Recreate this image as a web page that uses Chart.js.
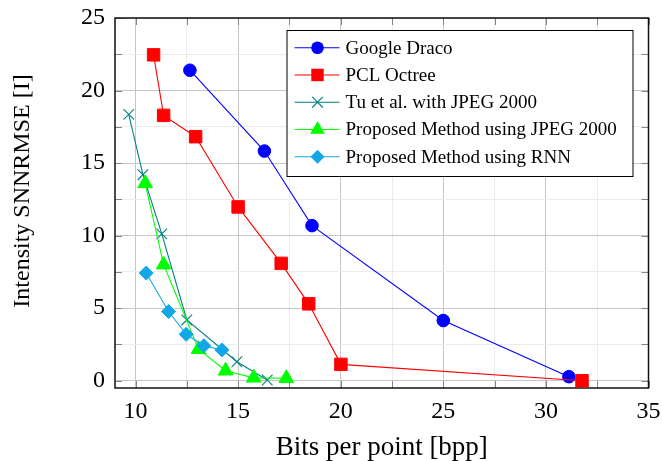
<!DOCTYPE html>
<html>
<head>
<meta charset="utf-8">
<script src="https://cdn.jsdelivr.net/npm/chart.js@4.4.1/dist/chart.umd.min.js"></script>
<style>
  html, body { margin: 0; padding: 0; background: #fff; }
  #wrap { width: 662px; height: 461px; }
</style>
</head>
<body>
<div id="wrap"><canvas id="grafico"></canvas></div>
<script>
// Valores
const seriesNames = ["Google Draco", "PCL Octree", "Tu et al. with JPEG 2000", "Proposed Method using JPEG 2000", "Proposed Method using RNN"];

const dracoX = [12.65, 16.28, 18.6, 25.0, 31.12];
const dracoY = [21.4, 15.83, 10.69, 4.15, 0.28];

const octreeX = [10.88, 11.37, 12.93, 15.0, 17.1, 18.44, 20.01, 31.76];
const octreeY = [22.46, 18.29, 16.82, 11.98, 8.09, 5.3, 1.13, 0.0];

const tuX = [9.67, 10.36, 11.28, 12.5, 14.94, 16.42];
const tuY = [18.36, 14.2, 10.12, 4.19, 1.31, 0.05];

const jpegX = [10.47, 11.37, 13.07, 14.39, 15.76, 17.35];
const jpegY = [13.6, 8.0, 2.17, 0.69, 0.2, 0.17];

const rnnX = [10.52, 11.61, 12.47, 13.33, 14.21];
const rnnY = [7.42, 4.77, 3.2, 2.42, 2.12];

const xTicks = [10, 12.5, 15, 17.5, 20, 22.5, 25, 27.5, 30, 32.5, 35];
const yTicks = [0, 2.5, 5, 7.5, 10, 12.5, 15, 17.5, 20, 22.5, 25];

const cores = ["#0000ff", "#ff0000", "#008080", "#00ff00", "#12a8e8"];
const marcadores = ["circle", "rect", "crossRot", "triangle", "rectRot"];
const raios = [6.3, 8.8, 7.5, 8.5, 7];

const fonte = "'Liberation Serif', 'Times New Roman', serif";

function pontos(xs, ys) {
    return xs.map((x, i) => ({ x: x, y: ys[i] }));
}

const todos = [[dracoX, dracoY], [octreeX, octreeY], [tuX, tuY], [jpegX, jpegY], [rnnX, rnnY]];

const datasets = todos.map((s, i) => ({
    label: seriesNames[i],
    data: pontos(s[0], s[1]),
    showLine: true,
    borderColor: cores[i],
    backgroundColor: cores[i],
    borderWidth: 1.1,
    pointStyle: marcadores[i],
    pointRadius: raios[i],
    pointHoverRadius: raios[i],
    pointBorderWidth: i === 2 ? 1.1 : 1,
    pointBorderColor: cores[i],
    pointBackgroundColor: cores[i],
    order: 5 - i
}));

// desenha um marcador na legenda
function marcador(ctx, estilo, x, y, r, cor) {
    ctx.save();
    ctx.fillStyle = cor;
    ctx.strokeStyle = cor;
    ctx.lineWidth = 1.1;
    ctx.beginPath();
    if (estilo === "circle") {
        ctx.arc(x, y, r, 0, Math.PI * 2);
        ctx.fill();
    } else if (estilo === "rect") {
        const s = r * Math.SQRT1_2;
        ctx.rect(x - s, y - s, 2 * s, 2 * s);
        ctx.fill();
    } else if (estilo === "crossRot") {
        const o = r * Math.SQRT1_2;
        ctx.moveTo(x - o, y - o); ctx.lineTo(x + o, y + o);
        ctx.moveTo(x - o, y + o); ctx.lineTo(x + o, y - o);
        ctx.stroke();
    } else if (estilo === "triangle") {
        let a = 0;
        ctx.moveTo(x + Math.sin(a) * r, y - Math.cos(a) * r);
        a += 2 * Math.PI / 3;
        ctx.lineTo(x + Math.sin(a) * r, y - Math.cos(a) * r);
        a += 2 * Math.PI / 3;
        ctx.lineTo(x + Math.sin(a) * r, y - Math.cos(a) * r);
        ctx.closePath();
        ctx.fill();
    } else if (estilo === "rectRot") {
        ctx.moveTo(x - r, y); ctx.lineTo(x, y - r); ctx.lineTo(x + r, y); ctx.lineTo(x, y + r);
        ctx.closePath();
        ctx.fill();
    }
    ctx.restore();
}

// moldura, marcas para dentro e legenda dentro do gráfico
const moldura = {
    id: "moldura",
    beforeDatasetsDraw(chart) {
        const ctx = chart.ctx;
        const a = chart.chartArea;
        const sx = chart.scales.x, sy = chart.scales.y;
        ctx.save();
        ctx.strokeStyle = "#858585";
        ctx.lineWidth = 1;
        const len = 7;
        xTicks.forEach(v => {
            const px = Math.round(sx.getPixelForValue(v)) + 0.5;
            ctx.beginPath();
            ctx.moveTo(px, a.bottom); ctx.lineTo(px, a.bottom - len);
            ctx.moveTo(px, a.top); ctx.lineTo(px, a.top + len);
            ctx.stroke();
        });
        yTicks.forEach(v => {
            const py = Math.round(sy.getPixelForValue(v)) + 0.5;
            ctx.beginPath();
            ctx.moveTo(a.left, py); ctx.lineTo(a.left + len, py);
            ctx.moveTo(a.right, py); ctx.lineTo(a.right - len, py);
            ctx.stroke();
        });
        ctx.strokeStyle = "#111";
        ctx.lineWidth = 1.5;
        ctx.strokeRect(a.left, a.top, a.right - a.left, a.bottom - a.top);
        ctx.restore();
    },
    afterDatasetsDraw(chart) {
        const ctx = chart.ctx;
        const a = chart.chartArea;
        const boxW = 346, boxH = 146, rowH = 27.25;
        const x0 = a.right - 16 - boxW;
        const y0 = a.top + 12;
        ctx.save();
        ctx.fillStyle = "#fff";
        ctx.fillRect(x0, y0, boxW, boxH);
        ctx.strokeStyle = "#000";
        ctx.lineWidth = 1;
        ctx.strokeRect(x0 + 0.5, y0 + 0.5, boxW, boxH);
        ctx.font = "19px " + fonte;
        ctx.textBaseline = "middle";
        seriesNames.forEach((nome, i) => {
            const y = y0 + 17.7 + i * rowH;
            ctx.strokeStyle = cores[i];
            ctx.lineWidth = 1.1;
            ctx.beginPath();
            ctx.moveTo(x0 + 8, y); ctx.lineTo(x0 + 53, y);
            ctx.stroke();
            marcador(ctx, marcadores[i], x0 + 31, y, raios[i], cores[i]);
            ctx.fillStyle = "#000";
            ctx.fillText(nome, x0 + 59, y + 1);
        });
        ctx.restore();
    }
};

const ctx1 = document.getElementById("grafico").getContext("2d");

new Chart(ctx1, {
    type: "scatter",
    data: { datasets: datasets },
    options: {
        responsive: true,
        maintainAspectRatio: false,
        animation: false,
        events: [],
        layout: { padding: { top: 18, right: 13.5, left: 0, bottom: 0 } },
        plugins: {
            legend: { display: false },
            tooltip: { enabled: false }
        },
        scales: {
            x: {
                type: "linear",
                min: 9,
                max: 35,
                afterFit: s => {
                    s.height = 73;
                    s.paddingLeft = 0;
                    s.paddingRight = 0;
                },
                afterBuildTicks: s => { s.ticks = xTicks.map(v => ({ value: v })); },
                grid: {
                    drawTicks: false,
                    color: c => (c.tick && c.tick.value % 5 === 0) ? "#c6c6c6" : "#ececec",
                    lineWidth: 1
                },
                border: { display: false },
                ticks: {
                    padding: 9,
                    color: "#000",
                    font: { family: fonte, size: 24 },
                    callback: v => (v % 5 === 0 ? v : "")
                },
                title: {
                    display: true,
                    text: "Bits per point [bpp]",
                    color: "#000",
                    font: { family: fonte, size: 27, lineHeight: 1 },
                    padding: { top: 0, bottom: 0 }
                }
            },
            y: {
                type: "linear",
                min: -0.5,
                max: 25,
                afterFit: s => {
                    s.width = 115;
                    s.paddingTop = 0;
                    s.paddingBottom = 0;
                },
                afterBuildTicks: s => { s.ticks = yTicks.map(v => ({ value: v })); },
                grid: {
                    drawTicks: false,
                    color: c => (c.tick && c.tick.value % 5 === 0) ? "#c6c6c6" : "#ececec",
                    lineWidth: 1
                },
                border: { display: false },
                ticks: {
                    padding: 10,
                    color: "#000",
                    font: { family: fonte, size: 24 },
                    callback: v => (v % 5 === 0 ? v : "")
                },
                title: {
                    display: true,
                    text: "    Intensity SNNRMSE [I]",
                    color: "#000",
                    font: { family: fonte, size: 24, lineHeight: 1 },
                    padding: { top: 11, bottom: 0 }
                }
            }
        }
    },
    plugins: [moldura]
});
</script>
</body>
</html>
